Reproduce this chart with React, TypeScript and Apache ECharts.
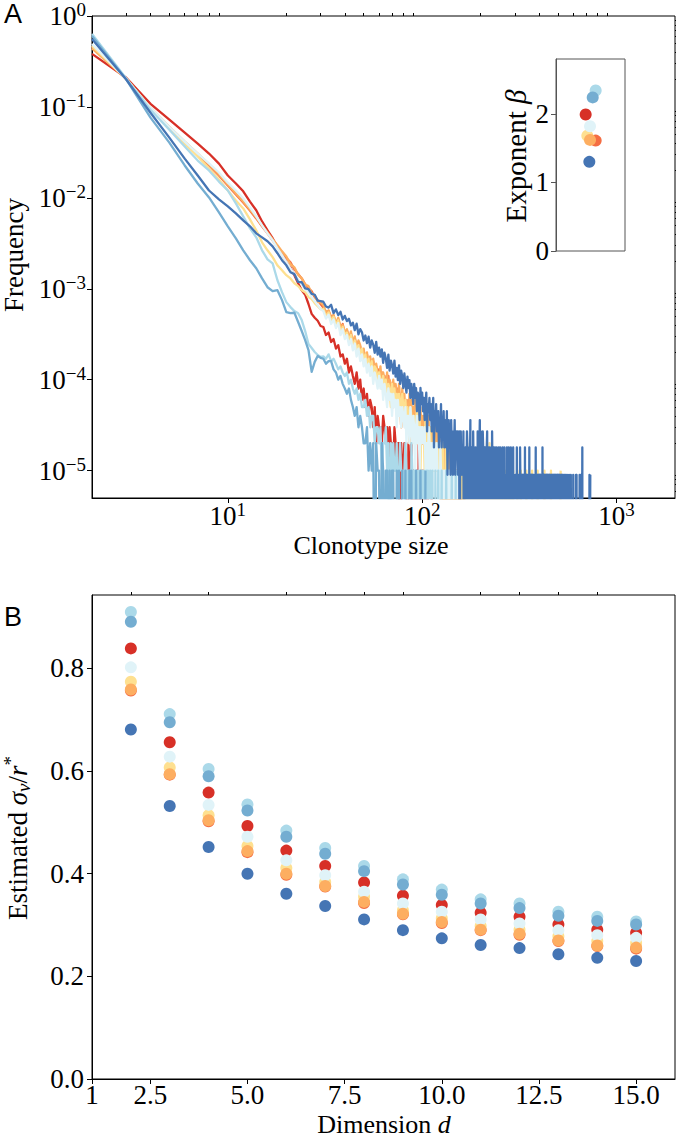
import React, { useEffect, useRef } from "react";
import * as echarts from "echarts";

const FONT = "Liberation Serif";
const SANS = "Liberation Sans";

// RdYlBu palette, one colour per repertoire
const COLORS = ["#d73027", "#f46d43", "#fdae61", "#fee090", "#e0f3f8", "#abd9e9", "#74add1", "#4575b4"];

// ---------- Panel A: clonotype size distributions ----------
const HEAD_SIZES = [2, 3, 4, 5, 6, 7, 8, 9, 10, 11, 12, 13, 14, 15, 16, 17, 18, 19, 20, 21, 22, 23, 24, 25, 26, 27, 28, 29, 30];
const HEAD_C0 = [0.383, 0.209, 0.108, 0.0724, 0.0521, 0.0395, 0.0307, 0.0238, 0.0176, 0.0144, 0.0118, 0.0091, 0.0073, 0.0055, 0.0044, 0.0036, 0.0029, 0.0024, 0.00196, 0.00172, 0.00141, 0.00115, 9.6e-4, 8.6e-4, 6.8e-4, 5.3e-4, 4.8e-4, 4.45e-4, 3.9e-4];
const HEAD_C1 = [0.457, 0.204, 0.0955, 0.0592, 0.0405, 0.0299, 0.0227, 0.0176, 0.0137, 0.0109, 0.0089, 0.00727, 0.00594, 0.00486, 0.00407, 0.00341, 0.00286, 0.00252, 0.00217, 0.00196, 0.00164, 0.00145, 0.0013, 0.00112, 0.00101, 9.41e-4, 8.09e-4, 7.5e-4, 6.78e-4];
const HEAD_C2 = [0.44, 0.203, 0.0981, 0.0606, 0.0415, 0.0307, 0.0233, 0.0181, 0.014, 0.01117, 0.00913, 0.00746, 0.0061, 0.00498, 0.00417, 0.0035, 0.00301, 0.00258, 0.00226, 0.00186, 0.00172, 0.00143, 0.0013, 0.00111, 0.00107, 8.9e-4, 8.5e-4, 7.2e-4, 7.1e-4];
const HEAD_C3 = [0.469, 0.205, 0.0955, 0.0592, 0.0395, 0.0285, 0.021, 0.0159, 0.01205, 0.00936, 0.00764, 0.0058, 0.00439, 0.00324, 0.00265, 0.00223, 0.00181, 0.0016, 0.00141, 0.0013, 0.00115, 0.00107, 9.65e-4, 9.18e-4, 8.09e-4, 7.69e-4, 6.95e-4, 6.44e-4, 5.98e-4];
const HEAD_C4 = [0.493, 0.202, 0.0981, 0.0606, 0.0415, 0.0307, 0.0239, 0.019, 0.0147, 0.01205, 0.00984, 0.00785, 0.00625, 0.00498, 0.00407, 0.00341, 0.00279, 0.00234, 0.00196, 0.00168, 0.00145, 0.00127, 0.00112, 9.9e-4, 9.18e-4, 8.09e-4, 7.31e-4, 6.61e-4, 5.98e-4];
const HEAD_C5 = [0.635, 0.206, 0.0931, 0.0562, 0.0367, 0.0257, 0.02, 0.0151, 0.01205, 0.00868, 0.00625, 0.00462, 0.00368, 0.00265, 0.00211, 0.0019, 0.00124, 9.18e-4, 7.13e-4, 6.29e-4, 5.68e-4, 5.39e-4, 4.53e-4, 3.43e-4, 2.47e-4, 2.23e-4, 2.02e-4, 1.87e-4, 1.78e-4];
const HEAD_C6 = [0.604, 0.201, 0.0762, 0.0405, 0.0227, 0.0144, 0.0101, 0.00691, 0.00486, 0.00359, 0.00265, 0.00206, 0.00168, 0.0013, 0.00104, 9.41e-4, 9.65e-4, 7.5e-4, 5.54e-4, 5.39e-4, 5.45e-4, 4.31e-4, 3.43e-4, 2.73e-4, 2.12e-4, 1.22e-4, 1.57e-4, 1.82e-4, 1.74e-4];
const HEAD_C7 = [0.56, 0.2, 0.0864, 0.0459, 0.027, 0.0176, 0.01205, 0.0096, 0.00804, 0.00674, 0.00565, 0.00486, 0.00407, 0.00368, 0.00333, 0.00293, 0.00246, 0.00206, 0.00181, 0.00152, 0.00145, 0.00119, 0.00118, 0.00101, 9.9e-4, 8.8e-4, 8.6e-4, 7.4e-4, 7.3e-4];

// clonotype counts for sizes 31, 32, 33, ... (one clonotype = UNIT frequency)
const TAIL_START = 31;
const TAIL_C0 = [38, 31, 33, 26, 28, 22, 24, 18, 19, 15, 17, 12, 14, 11, 9, 12, 8, 10, 6, 8, 5, 7, 4, 6, 5, 3, 5, 2, 4, 3, 3, 2, 4, 3, 2, 3, 1, 3, 2, 2, 1, 3, 2, 1, 2, 2, 0, 2, 1, 1, 2, 1, 1, 0, 2, 1, 1, 2, 0, 1, 1, 0, 1, 1, 0, 2, 1, 0, 1, 0, 1, 0, 0, 1, 0, 0, 1, 0, 0, 0, 0, 1];
const TAIL_C1 = [62, 54, 57, 49, 50, 42, 46, 37, 41, 31, 35, 28, 32, 24, 29, 21, 25, 23, 17, 21, 15, 19, 14, 17, 12, 16, 11, 14, 10, 13, 9, 12, 8, 11, 9, 7, 11, 6, 9, 8, 5, 9, 6, 8, 4, 7, 6, 3, 7, 5, 6, 3, 5, 4, 6, 2, 5, 4, 3, 5, 3, 4, 2, 5, 3, 4, 2, 4, 3, 2, 2, 3, 3, 2, 3, 2, 2, 3, 1, 2, 3, 2, 1, 2, 2, 1, 2, 2, 1, 1, 2, 1, 1, 2, 0, 1, 2, 1, 1, 0, 1, 1, 0, 2, 1, 0, 1, 0, 1, 1, 0, 1, 1, 0, 0, 1, 0, 1, 0, 0, 1, 0, 0, 1, 0, 0, 0, 1];
const TAIL_C2 = [66, 55, 58, 47, 52, 41, 48, 38, 40, 33, 36, 28, 34, 25, 30, 22, 27, 24, 18, 22, 16, 20, 14, 18, 13, 17, 11, 15, 12, 10, 14, 9, 12, 10, 8, 12, 7, 10, 9, 6, 10, 6, 9, 7, 5, 9, 6, 4, 8, 5, 7, 4, 6, 5, 3, 7, 4, 6, 3, 5, 4, 6, 2, 5, 3, 4, 2, 5, 3, 4, 2, 4, 3, 1, 4, 2, 3, 4, 1, 3, 2, 3, 1, 3, 2, 1, 3, 2, 1, 2, 3, 1, 2, 2, 1, 3, 1, 2, 0, 2, 1, 2, 1, 0, 2, 1, 2, 1, 1, 0, 2, 1, 0, 1, 2, 0, 1, 1, 0, 1, 1, 0, 1, 0, 0, 1, 0, 1, 0, 0, 1, 0, 0, 0, 1];
const TAIL_C3 = [60, 50, 55, 44, 49, 40, 45, 34, 38, 31, 33, 27, 31, 23, 27, 21, 24, 19, 22, 15, 19, 14, 17, 12, 16, 11, 14, 13, 9, 12, 10, 8, 11, 7, 10, 6, 9, 8, 5, 9, 6, 8, 5, 7, 4, 7, 6, 3, 7, 5, 4, 6, 3, 5, 4, 2, 5, 4, 3, 4, 2, 4, 3, 5, 2, 3, 4, 1, 3, 3, 2, 3, 1, 4, 2, 2, 3, 1, 2, 3, 1, 2, 2, 1, 3, 1, 2, 1, 2, 1, 1, 2, 1, 1, 2, 0, 1, 2, 1, 1, 1, 0, 2, 1, 1, 0, 1, 1, 0, 1, 1, 1, 0, 1, 0, 1, 1, 0, 1, 0, 0, 1, 1, 0, 1, 0, 0, 1, 0, 1];
const TAIL_C4 = [57, 47, 52, 41, 46, 37, 42, 31, 36, 28, 31, 24, 28, 21, 25, 18, 22, 16, 19, 14, 17, 12, 15, 11, 14, 9, 12, 10, 8, 11, 8, 10, 6, 9, 7, 5, 8, 6, 7, 4, 7, 5, 6, 3, 6, 4, 5, 3, 5, 4, 3, 5, 2, 4, 4, 2, 5, 3, 2, 4, 3, 1, 3, 4, 2, 3, 1, 3, 2, 3, 2, 2, 3, 1, 2, 2, 1, 3, 2, 1, 2, 1, 2, 1, 1, 2, 1, 1, 2, 1, 1, 1, 0, 2, 1, 1, 0, 1, 1, 0, 1, 1, 0, 1, 0, 1, 1, 0, 1, 0, 0, 1, 0, 1, 0, 0, 1, 0, 0, 1, 0, 0, 1, 0, 1];
const TAIL_C5 = [18, 17, 19, 16, 17, 15, 13, 14, 12, 11, 12, 9, 10, 8, 7, 8, 6, 7, 5, 5, 6, 4, 5, 3, 4, 4, 2, 3, 3, 2, 3, 1, 2, 2, 3, 1, 2, 0, 2, 1, 2, 1, 1, 2, 0, 1, 2, 1, 1, 0, 1, 2, 1, 0, 1, 1, 0, 2, 1, 0, 1, 0, 1, 1, 0, 1, 0, 0, 1, 1, 0, 1, 0, 0, 1, 0, 1, 0, 0, 1, 0, 0, 1, 0, 0, 0, 1, 0, 0, 0, 1, 0, 0, 0, 0, 1, 0, 0, 0, 0, 0, 0, 1, 0, 0, 0, 0, 0, 0, 0, 0, 1, 0, 0, 0, 0, 0, 0, 1];
const TAIL_C6 = [17, 15, 16, 16, 13, 12, 10, 11, 9, 8, 7, 8, 6, 5, 4, 5, 3, 4, 3, 2, 2, 3, 1, 2, 1, 2, 0, 2, 1, 1, 0, 2, 1, 0, 1, 1, 0, 1, 0, 1, 1, 0, 0, 1, 0, 1, 0, 0, 1, 0, 0, 1, 0, 0, 0, 1, 0, 1, 0, 0, 0, 0, 1, 0, 0, 0, 0, 1, 0, 0, 0, 0, 0, 1];
const TAIL_C7 = [80, 71, 69, 74, 60, 66, 57, 62, 51, 56, 49, 52, 44, 47, 39, 46, 35, 40, 37, 30, 34, 28, 33, 25, 30, 27, 22, 29, 21, 25, 20, 24, 17, 22, 19, 15, 21, 14, 18, 16, 13, 18, 12, 15, 11, 16, 10, 14, 12, 9, 13, 10, 8, 12, 9, 11, 7, 10, 8, 6, 10, 7, 9, 5, 8, 7, 4, 9, 6, 8, 5, 7, 4, 6, 8, 3, 6, 5, 7, 4, 6, 3, 5, 7, 2, 5, 4, 6, 3, 4, 5, 2, 4, 3, 6, 2, 4, 3, 5, 2, 3, 4, 2, 5, 1, 3, 4, 2, 3, 1, 4, 2, 3, 1, 3, 2, 4, 1, 2, 3, 2, 3, 1, 2, 3, 0, 2, 3, 1, 2];

// sparse far tail counts, one digit per size from 161 upward
const FAR_START = 161;
const FAR_C3 =
  "1010010100" + "1001020010" + "0100100100" + "1000101000" + "0100010001" + "0001000010" +
  "0200001000" + "0010000010" + "0000100000" + "1000000100" + "0000010000" + "0100000001" +
  "0000000100" + "0001000000" + "0000000010" + "0000000000" + "0100000000" + "0000000000" +
  "0001000000" + "0000000000" + "0000000100" + "0000000000" + "0000000000" + "0010000000" +
  "0000000000" + "0000000000" + "0000010000" + "0000000000" + "0000000000" + "0000000001" +
  "0000000000" + "0000000000" + "0000000000" + "0000000000" + "0000000000" + "000001";
const FAR_C7 =
  "2130212013" + "2120214012" + "2031210221" + "2031202413" + "0210320120" + "2110230121" +
  "0211021031" + "1021012011" + "0210110210" + "1201011021" + "0110201101" + "1021010120" +
  "1101021010" + "1012010110" + "0101102010" + "1010110021" + "0100110101" + "0110010201" +
  "0010110100" + "1010020101" + "0100101010" + "0110010010" + "1002010010" + "0101001001" +
  "0010100100" + "1001020010" + "0100100100" + "1000101001" + "0010010001" + "0100100010" +
  "0010010001" + "0001001000" + "1001000100" + "0100010010" + "0010001000" + "1000100001" +
  "0001001000" + "0000100000" + "0100000010" + "0000001000" + "0000000001" + "0000000000" +
  "0100000000" + "0000000010" + "0000000000" + "0000000010" + "0010000000" + "0000000000" +
  "0000010000" + "0000010000" + "0000002000" + "0000000000" + "0000000000" + "0000000000" +
  "0000000000" + "0000000000" + "0000010000" + "001";

const UNITS = [1e-5, 1e-5, 1e-5, 1e-5, 1e-5, 1e-5, 1e-5, 9e-6];
const ZERO_LEVEL = 1e-7; // empty size bins (clipped below the axis, as in a log plot)

const HEADS = [HEAD_C0, HEAD_C1, HEAD_C2, HEAD_C3, HEAD_C4, HEAD_C5, HEAD_C6, HEAD_C7];
const TAILS = [TAIL_C0, TAIL_C1, TAIL_C2, TAIL_C3, TAIL_C4, TAIL_C5, TAIL_C6, TAIL_C7];
const FARS: (string | null)[] = [null, null, null, FAR_C3, null, null, null, FAR_C7];

// inset: fitted exponent beta
const BETA = [1.99, 1.61, 1.62, 1.68, 1.82, 2.34, 2.24, 1.3];
const BETA_JITTER = [0.43, 0.575, 0.493, 0.454, 0.493, 0.575, 0.532, 0.483];

// ---------- Panel B ----------
const DIMS = [2, 3, 4, 5, 6, 7, 8, 9, 10, 11, 12, 13, 14, 15];
const SIG_C0 = [0.839, 0.656, 0.558, 0.493, 0.445, 0.415, 0.383, 0.357, 0.339, 0.324, 0.316, 0.301, 0.291, 0.285];
const SIG_C1 = [0.757, 0.593, 0.502, 0.442, 0.398, 0.375, 0.343, 0.321, 0.304, 0.29, 0.281, 0.269, 0.259, 0.254];
const SIG_C2 = [0.759, 0.594, 0.504, 0.444, 0.4, 0.376, 0.345, 0.322, 0.306, 0.291, 0.283, 0.27, 0.26, 0.256];
const SIG_C3 = [0.774, 0.607, 0.514, 0.454, 0.411, 0.384, 0.355, 0.329, 0.313, 0.298, 0.291, 0.278, 0.269, 0.265];
const SIG_C4 = [0.802, 0.628, 0.534, 0.472, 0.426, 0.397, 0.365, 0.342, 0.326, 0.311, 0.303, 0.29, 0.28, 0.275];
const SIG_C5 = [0.91, 0.711, 0.604, 0.535, 0.484, 0.45, 0.415, 0.389, 0.369, 0.35, 0.342, 0.326, 0.316, 0.307];
const SIG_C6 = [0.891, 0.695, 0.59, 0.523, 0.472, 0.439, 0.405, 0.379, 0.359, 0.342, 0.333, 0.318, 0.308, 0.301];
const SIG_C7 = [0.681, 0.532, 0.452, 0.4, 0.361, 0.337, 0.311, 0.29, 0.274, 0.261, 0.255, 0.243, 0.236, 0.23];
const SIGS = [SIG_C0, SIG_C1, SIG_C2, SIG_C3, SIG_C4, SIG_C5, SIG_C6, SIG_C7];
const SCATTER_ORDER = [0, 1, 3, 4, 5, 6, 2, 7];

// ticks
const A_X_MAJOR = [10, 100, 1000];
const A_X_MINOR = [3, 4, 5, 6, 7, 8, 9, 20, 30, 40, 50, 60, 70, 80, 90, 200, 300, 400, 500, 600, 700, 800, 900];
const A_Y_MAJOR = [1e-5, 1e-4, 1e-3, 1e-2, 1e-1, 1];
const A_Y_MINOR = [6e-6, 7e-6, 8e-6, 9e-6, 2e-5, 3e-5, 4e-5, 5e-5, 6e-5, 7e-5, 8e-5, 9e-5, 2e-4, 3e-4, 4e-4, 5e-4, 6e-4, 7e-4, 8e-4, 9e-4, 2e-3, 3e-3, 4e-3, 5e-3, 6e-3, 7e-3, 8e-3, 9e-3, 0.02, 0.03, 0.04, 0.05, 0.06, 0.07, 0.08, 0.09, 0.2, 0.3, 0.4, 0.5, 0.6, 0.7, 0.8, 0.9];
const INSET_Y_TICKS = [0, 1, 2];
const B_X_MAJOR = [1, 2.5, 5, 7.5, 10, 12.5, 15];
const B_X_MINOR = [2, 3, 4, 6, 7, 8, 9, 11, 12, 13, 14];
const B_Y_MAJOR = [0, 0.2, 0.4, 0.6, 0.8];

function buildCurve(i: number): number[][] {
  const pts: number[][] = HEAD_SIZES.map((s, k) => [s, HEADS[i][k]]);
  TAILS[i].forEach((c, k) => pts.push([TAIL_START + k, c > 0 ? c * UNITS[i] : ZERO_LEVEL]));
  const far = FARS[i];
  if (far) {
    far.split("").forEach((ch, k) => {
      const c = Number(ch);
      pts.push([FAR_START + k, c > 0 ? c * UNITS[i] : ZERO_LEVEL]);
    });
  }
  return pts;
}

const TICK_FS = 27;
const tickRich = {
  t: { fontFamily: FONT, fontSize: TICK_FS, color: "#000", lineHeight: 22 },
  b: { fontFamily: FONT, fontSize: TICK_FS, color: "#000", lineHeight: 25 },
  s: { fontFamily: FONT, fontSize: 19, color: "#000", lineHeight: 12, padding: [0, 0, 13, 0] },
};
const powFmt = (v: number) => {
  const e = Math.round(Math.log10(v));
  return `{b|10}{s|${e < 0 ? "\u2212" + -e : e}}`;
};

const tickStyle = { color: "#000", width: 1 };
const labelFont = { fontFamily: FONT, fontSize: TICK_FS, color: "#000" };

function buildOption(): any {
  const series: any[] = [];
  for (let i = 0; i < 8; i++) {
    series.push({
      type: "line",
      xAxisIndex: 0,
      yAxisIndex: 0,
      data: buildCurve(i),
      symbol: "none",
      clip: true,
      lineStyle: { color: COLORS[i], width: 2.3, join: "round" },
      z: 2,
    });
  }
  SCATTER_ORDER.forEach((i) => {
    series.push({
      type: "scatter",
      xAxisIndex: 2,
      yAxisIndex: 2,
      data: [[BETA_JITTER[i], BETA[i]]],
      symbolSize: 12,
      itemStyle: { color: COLORS[i], opacity: 1 },
      z: 3,
    });
  });
  SCATTER_ORDER.forEach((i) => {
    series.push({
      type: "scatter",
      xAxisIndex: 3,
      yAxisIndex: 3,
      data: DIMS.map((d, k) => [d, SIGS[i][k]]),
      symbolSize: 12,
      itemStyle: { color: COLORS[i], opacity: 1 },
      z: 3,
    });
  });

  const txt = (text: string, x: number, y: number, size: number, family: string, rot = 0, rich?: any) => ({
    type: "text",
    x,
    y,
    rotation: rot,
    style: {
      text,
      fontSize: size,
      fontFamily: family,
      fill: "#000",
      textAlign: "center",
      textVerticalAlign: "middle",
      align: "center",
      verticalAlign: "middle",
      rich,
    },
  });

  const mk = (size: number, lh?: number) => ({
    n: { fontFamily: FONT, fontSize: size, color: "#000", lineHeight: lh },
    i: { fontFamily: FONT, fontSize: size, fontStyle: "italic", color: "#000", lineHeight: lh },
    sub: { fontFamily: FONT, fontSize: Math.round(size * 0.7), fontStyle: "italic", color: "#000", padding: [11, 0, 0, 0] },
    sup: { fontFamily: FONT, fontSize: Math.round(size * 0.72), color: "#000", padding: [0, 0, 15, 0] },
  });

  return {
    animation: false,
    backgroundColor: "#fff",
    textStyle: { fontFamily: FONT },
    grid: [
      { left: 92, top: 15, width: 583, height: 483, show: true, borderColor: "#000", borderWidth: 1, backgroundColor: "transparent" },
      { left: 556, top: 59, width: 69, height: 192, show: true, borderColor: "#555", borderWidth: 1, backgroundColor: "transparent" },
      { left: 92, top: 595, width: 583, height: 484, show: true, borderColor: "#000", borderWidth: 1, backgroundColor: "transparent" },
    ],
    xAxis: [
      {
        type: "log", gridIndex: 0, min: 2, max: 2000, logBase: 10,
        axisLine: { show: true, lineStyle: tickStyle },
        axisTick: { show: true, length: 5, lineStyle: tickStyle, customValues: A_X_MAJOR },
        axisLabel: { ...labelFont, customValues: A_X_MAJOR, formatter: powFmt, rich: tickRich, margin: 5 },
        splitLine: { show: false },
      },
      {
        type: "log", gridIndex: 0, min: 2, max: 2000, logBase: 10,
        axisLine: { show: false },
        axisTick: { show: true, length: 3, lineStyle: tickStyle, customValues: A_X_MINOR },
        axisLabel: { show: false },
        splitLine: { show: false },
      },
      { type: "value", gridIndex: 1, min: 0, max: 1, show: false, splitLine: { show: false } },
      {
        type: "value", gridIndex: 2, min: 1, max: 16,
        axisLine: { show: true, lineStyle: tickStyle },
        axisTick: { show: true, length: 5, lineStyle: tickStyle, customValues: B_X_MAJOR },
        axisLabel: {
          ...labelFont, customValues: B_X_MAJOR, margin: 5, rich: tickRich,
          formatter: (v: number) => `{t|${v === 1 ? "1" : v.toFixed(1)}}`,
        },
        splitLine: { show: false },
      },
      {
        type: "value", gridIndex: 2, min: 1, max: 16,
        axisLine: { show: false },
        axisTick: { show: true, length: 3, lineStyle: tickStyle, customValues: B_X_MINOR },
        axisLabel: { show: false },
        splitLine: { show: false },
      },
    ],
    yAxis: [
      {
        type: "log", gridIndex: 0, min: 5e-6, max: 1, logBase: 10,
        axisLine: { show: true, lineStyle: tickStyle },
        axisTick: { show: true, length: 5, lineStyle: tickStyle, customValues: A_Y_MAJOR },
        axisLabel: { ...labelFont, customValues: A_Y_MAJOR, formatter: powFmt, rich: tickRich, margin: 6 },
        splitLine: { show: false },
      },
      {
        type: "log", gridIndex: 0, min: 5e-6, max: 1, logBase: 10,
        axisLine: { show: false },
        axisTick: { show: true, length: 3, lineStyle: tickStyle, customValues: A_Y_MINOR },
        axisLabel: { show: false },
        splitLine: { show: false },
      },
      {
        type: "value", gridIndex: 1, min: 0, max: 2.8,
        axisLine: { show: true, lineStyle: { color: "#555", width: 1 } },
        axisTick: { show: true, length: 5, lineStyle: { color: "#555", width: 1 }, customValues: INSET_Y_TICKS },
        axisLabel: { ...labelFont, customValues: INSET_Y_TICKS, margin: 7, rich: tickRich, formatter: (v: number) => `{t|${v}}` },
        splitLine: { show: false },
      },
      {
        type: "value", gridIndex: 2, min: 0, max: 0.943,
        axisLine: { show: true, lineStyle: tickStyle },
        axisTick: { show: true, length: 5, lineStyle: tickStyle, customValues: B_Y_MAJOR },
        axisLabel: { ...labelFont, customValues: B_Y_MAJOR, margin: 8, rich: tickRich, formatter: (v: number) => `{t|${v.toFixed(1)}}` },
        splitLine: { show: false },
      },
    ],
    graphic: [
      txt("A", 13, 14, 27, SANS),
      txt("B", 13, 617, 27, SANS),
      txt("{n|Frequency}", 14, 255, 27, FONT, Math.PI / 2, mk(27)),
      txt("{n|Clonotype size}", 371, 545, 26, FONT, 0, mk(26, 20)),
      txt("{n|Exponent }{i|\u03b2}", 516, 156, 29, FONT, Math.PI / 2, mk(29)),
      txt("{n|Estimated }{i|\u03c3}{sub|v}{n|/}{i|r}{sup|*}", 18, 838, 27, FONT, Math.PI / 2, mk(27)),
      txt("{n|Dimension }{i|d}", 384, 1124, 26, FONT, 0, mk(26, 20)),
    ],
    series,
  };
}

export default function App() {
  const ref = useRef<HTMLDivElement>(null);
  useEffect(() => {
    if (!ref.current) return;
    const chart = echarts.init(ref.current, null, { renderer: "svg" });
    chart.setOption(buildOption());
    return () => chart.dispose();
  }, []);
  return (
    <div
      ref={ref}
      style={{ position: "absolute", left: 0, top: 0, width: 676, height: 1139, background: "#fff" }}
    />
  );
}
